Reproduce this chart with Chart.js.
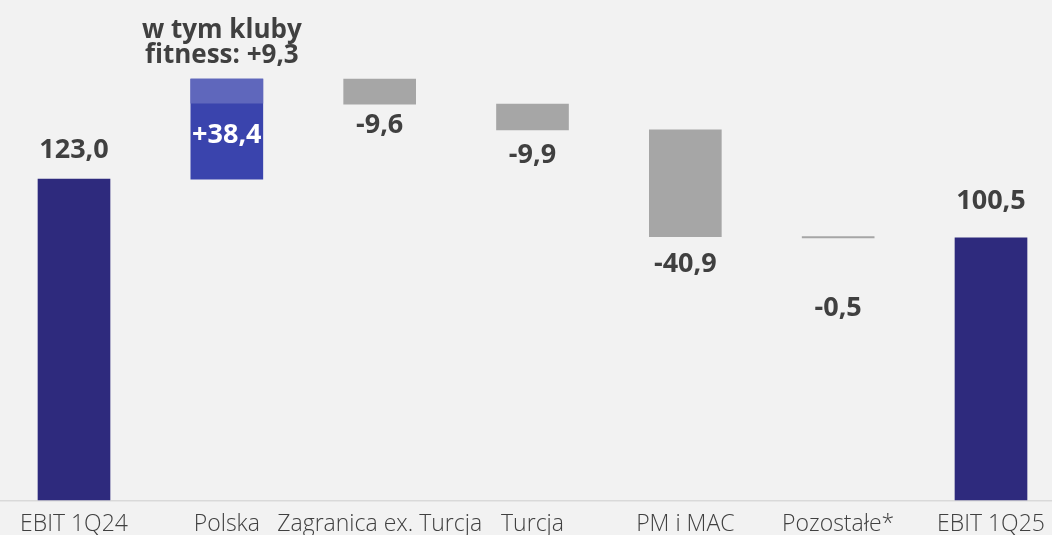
<!DOCTYPE html>
<html>
<head>
<meta charset="utf-8">
<script src="https://cdn.jsdelivr.net/npm/chart.js@4.4.1/dist/chart.umd.min.js"></script>
<style>
  html, body { margin: 0; padding: 0; background: #f2f2f2; }
  #wrap { width: 1052px; height: 535px; position: relative; }
</style>
</head>
<body>
<div id="wrap"><canvas id="chart"></canvas></div>
<script>
// dane EBIT (mln zł)
const categories = ['EBIT 1Q24', 'Polska', 'Zagranica ex. Turcja', 'Turcja', 'PM i MAC', 'Pozostałe*', 'EBIT 1Q25'];
const changes = [123.0, 38.4, -9.6, -9.9, -40.9, -0.5, 100.5];
const isTotal = [true, false, false, false, false, false, true];
const valueLabels = ['123,0', '+38,4', '-9,6', '-9,9', '-40,9', '-0,5', '100,5'];
const fitnessValue = 9.3; // część wzrostu "Polska"
const fitnessLabel = ['w tym kluby', 'fitness: +9,3'];

// zakresy słupków waterfall
let running = 0;
const ranges = changes.map((v, i) => {
    if (isTotal[i]) {
        running = v;
        return [0, v];
    }
    const r = [running, running + v];
    running += v;
    return r;
});
const fitnessRanges = ranges.map((r, i) => i === 1 ? [r[1] - fitnessValue, r[1]] : null);

const barColors = changes.map((v, i) => isTotal[i] ? '#2e2a7d' : (v > 0 ? '#3a44ad' : '#a6a6a6'));

const FONT = "'Open Sans', sans-serif";
const TEXT = '#404040';

const bgPlugin = {
    id: 'bg',
    beforeDraw(chart) {
        const ctx = chart.ctx;
        ctx.save();
        ctx.fillStyle = '#f2f2f2';
        ctx.fillRect(0, 0, chart.width, chart.height);
        // linia bazowa na całą szerokość
        const y0 = chart.scales.y.getPixelForValue(0);
        ctx.fillStyle = '#d9d9d9';
        ctx.fillRect(0, y0, chart.width, 1.5);
        ctx.restore();
    }
};

const labelPlugin = {
    id: 'waterfallLabels',
    afterDatasetsDraw(chart, args, opts) {
        const ctx = chart.ctx;
        const meta = chart.getDatasetMeta(0);
        ctx.save();
        ctx.textAlign = 'center';
        ctx.textBaseline = 'alphabetic';
        ctx.font = `bold 27px ${FONT}`;
        meta.data.forEach((el, i) => {
            const top = Math.min(el.y, el.base);
            const bottom = Math.max(el.y, el.base);
            const off = opts.offsets[i];
            let cy, color = TEXT;
            if (isTotal[i]) {
                cy = top - off;
            } else if (changes[i] > 0) {
                cy = top + off;
                color = '#ffffff';
            } else {
                cy = bottom + off;
            }
            ctx.fillStyle = color;
            ctx.fillText(valueLabels[i], el.x, cy + 9.5);
        });
        // adnotacja fitness nad słupkiem Polska
        const pol = meta.data[1];
        const top = Math.min(pol.y, pol.base);
        ctx.fillStyle = TEXT;
        ctx.font = `bold 26px ${FONT}`;
        ctx.fillText(fitnessLabel[0], pol.x - 5, top - 41);
        ctx.fillText(fitnessLabel[1], pol.x - 5, top - 16);
        ctx.restore();
    }
};

new Chart(document.getElementById('chart'), {
    type: 'bar',
    data: {
        labels: categories,
        datasets: [
            {
                data: ranges,
                backgroundColor: barColors,
                barThickness: 72,
                grouped: false,
                clip: false,
                order: 2,
            },
            {
                data: fitnessRanges,
                backgroundColor: '#5f67bc',
                barThickness: 72,
                grouped: false,
                clip: false,
                order: 1,
            },
        ],
    },
    options: {
        responsive: true,
        maintainAspectRatio: false,
        animation: false,
        layout: { padding: { left: 74, right: 61, top: 0, bottom: 0 } },
        plugins: {
            legend: { display: false },
            tooltip: { enabled: false },
            waterfallLabels: { offsets: [31, 54, 19, 24, 26, 69, 38] },
        },
        scales: {
            x: {
                offset: false,
                grid: { display: false, drawTicks: false },
                border: { display: false },
                ticks: {
                    autoSkip: false,
                    maxRotation: 0,
                    padding: 13,
                    color: TEXT,
                    font: { family: FONT, size: 23, weight: 300, lineHeight: 1 },
                },
                afterFit(scale) {
                    scale.height = 35;
                    scale.paddingLeft = 0;
                    scale.paddingRight = 0;
                },
            },
            y: {
                display: false,
                min: 0,
                max: 191.7,
            },
        },
    },
    plugins: [bgPlugin, labelPlugin],
});
</script>
</body>
</html>
